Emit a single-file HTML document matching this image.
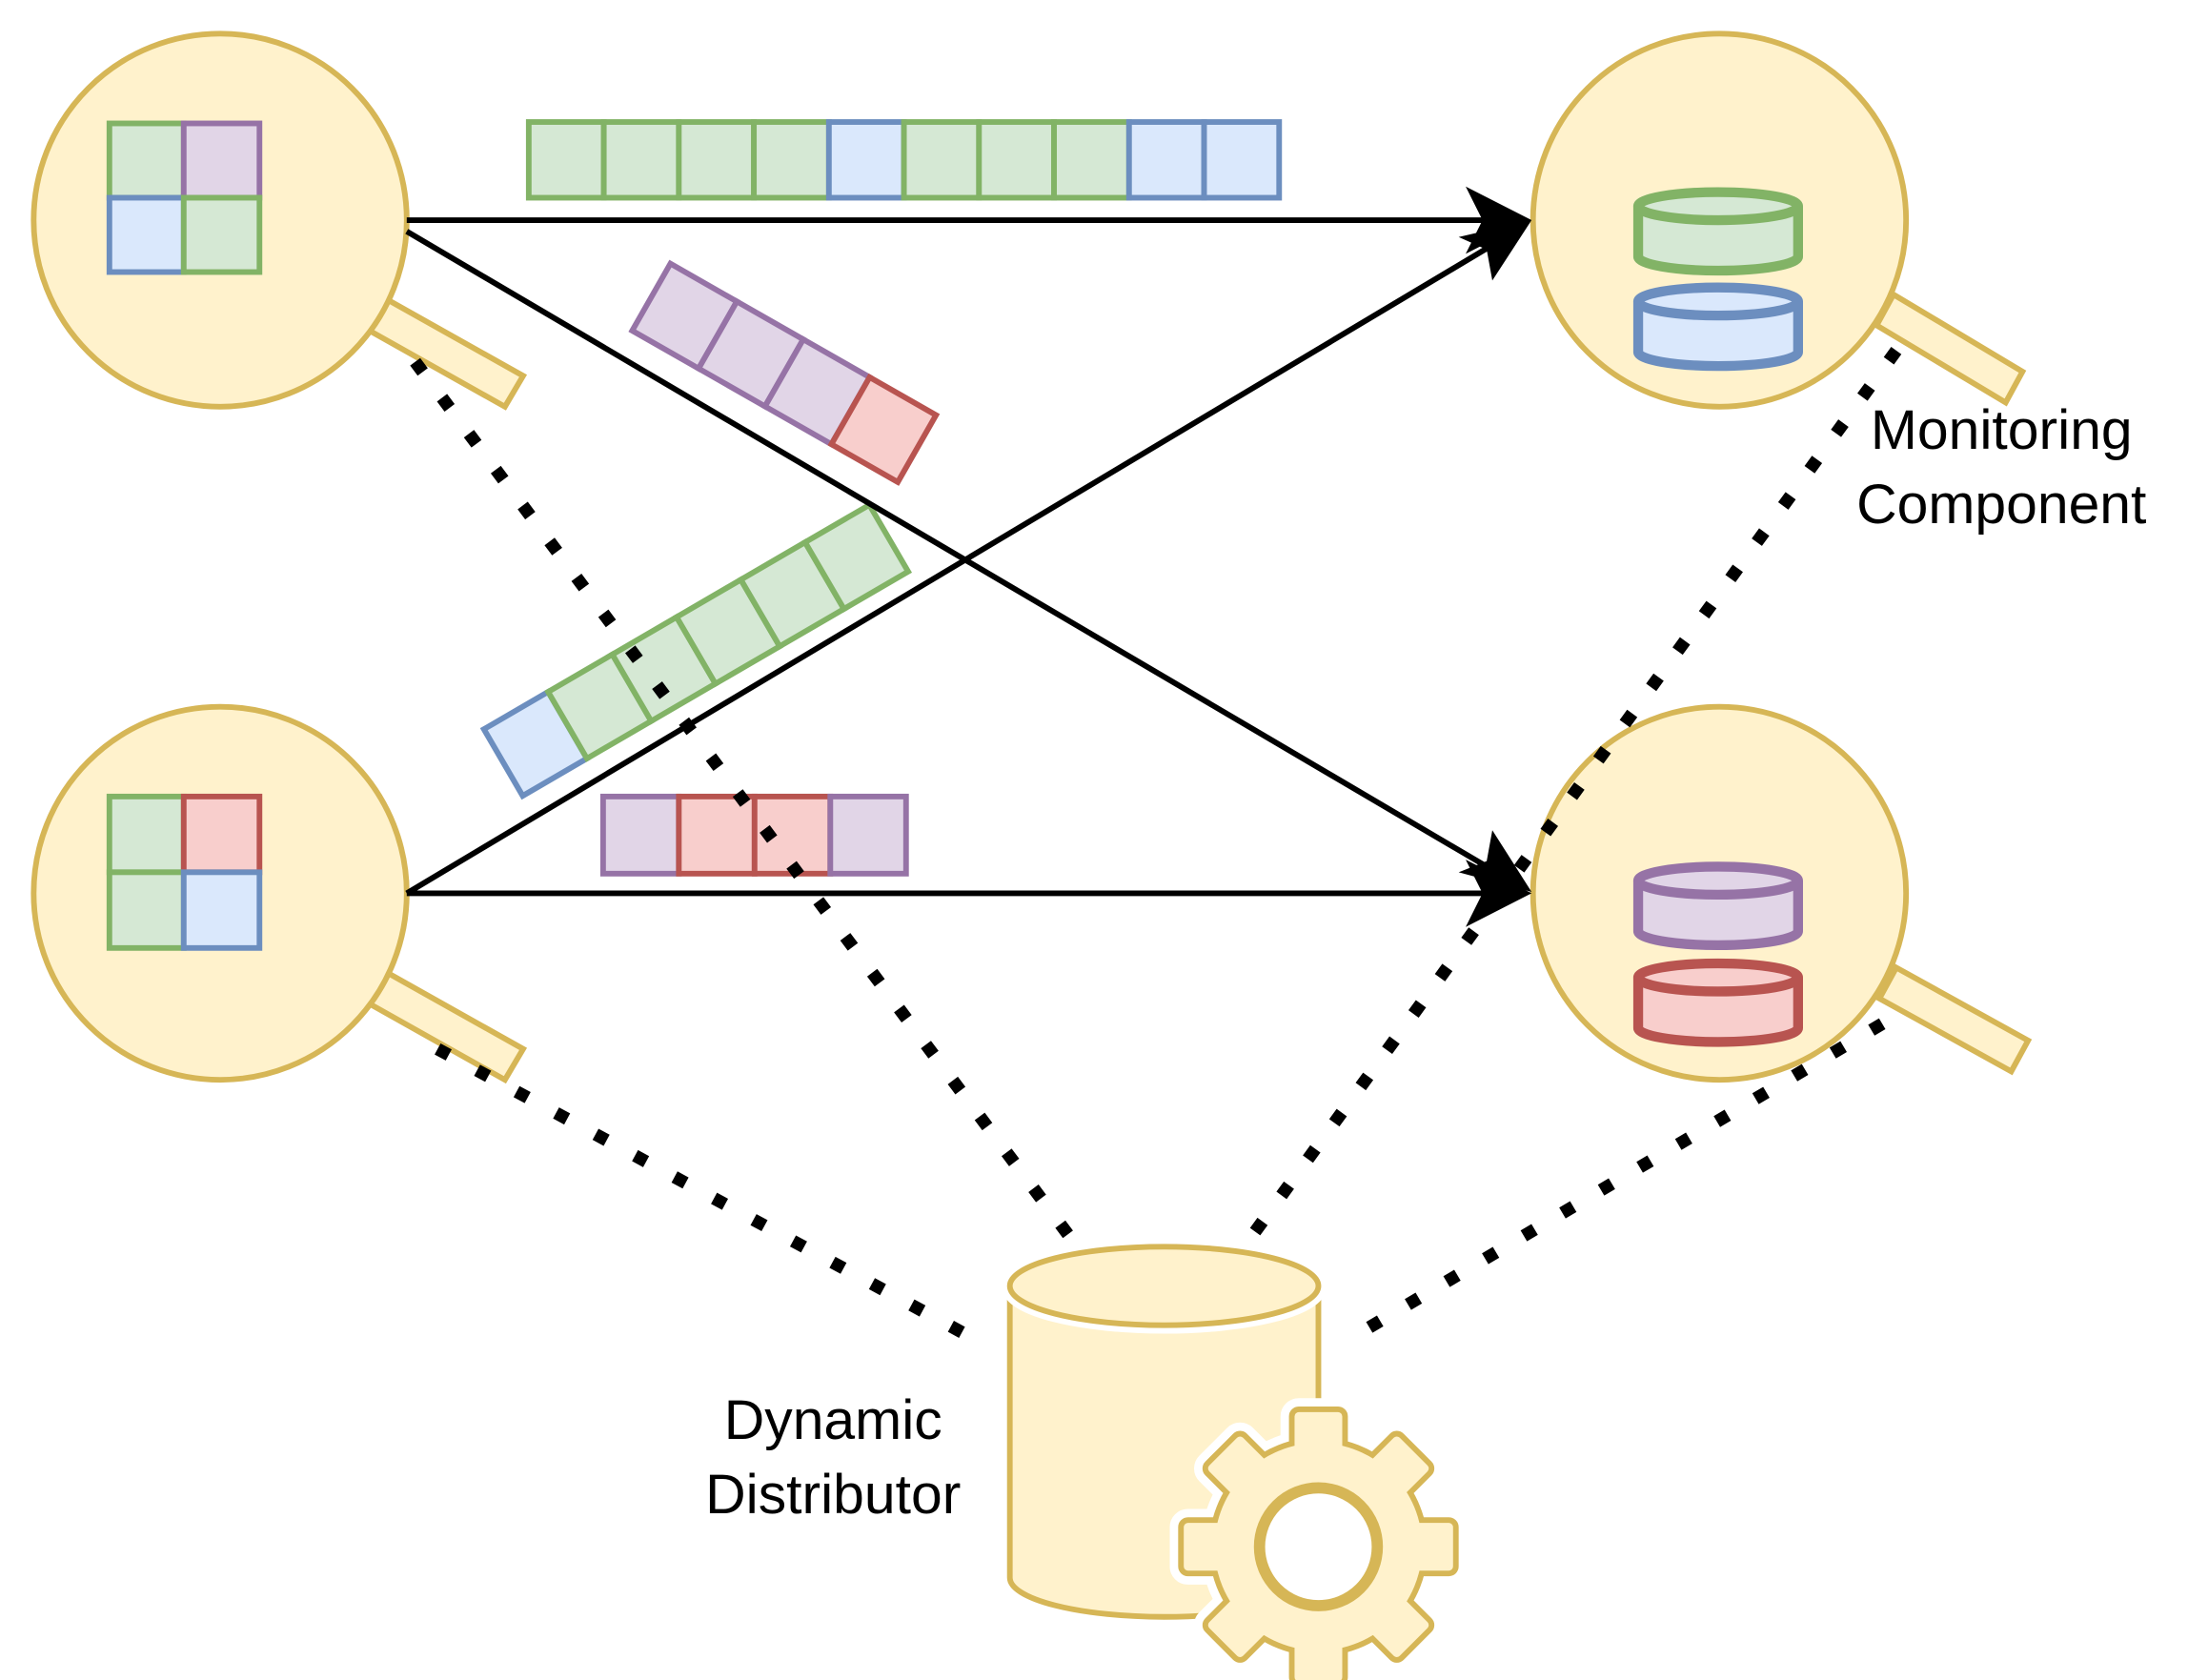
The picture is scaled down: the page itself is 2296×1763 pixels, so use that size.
<!DOCTYPE html>
<html><head><meta charset="utf-8"><style>
html,body{margin:0;padding:0;background:#fff;}
svg{display:block}
text{font-family:"Liberation Sans",sans-serif;font-size:40px;fill:#000;text-anchor:middle}
</style></head><body>
<svg width="2296" height="1763" viewBox="0 0 1560 1198" preserveAspectRatio="none" xmlns="http://www.w3.org/2000/svg">
<defs>
<marker id="ah" markerWidth="12" markerHeight="12" refX="10" refY="6" orient="auto" markerUnits="userSpaceOnUse" viewBox="0 0 12 12">
</marker>
</defs>
<g fill="#fff2cc" stroke="#d6b656" stroke-width="4">
<polygon points="275,213 373,268 360,290 262,235"/>
<polygon points="275,693 373,748 360,770 262,715"/>
<polygon points="1350,210 1442,265 1430,287 1338,232"/>
<polygon points="1352,690 1446,742 1434,764 1340,712"/>
<circle cx="157" cy="157" r="133"/>
<circle cx="157" cy="637" r="133"/>
<circle cx="1226" cy="157" r="133"/>
<circle cx="1226" cy="637" r="133"/>
</g>
<!-- grids -->
<g stroke-width="4">
<rect x="78" y="88" width="53" height="53" fill="#d5e8d4" stroke="#82b366"/>
<rect x="131" y="88" width="54" height="53" fill="#e1d5e7" stroke="#9673a6"/>
<rect x="78" y="141" width="53" height="53" fill="#dae8fc" stroke="#6c8ebf"/>
<rect x="131" y="141" width="54" height="53" fill="#d5e8d4" stroke="#82b366"/>
<rect x="78" y="568" width="53" height="54" fill="#d5e8d4" stroke="#82b366"/>
<rect x="131" y="568" width="54" height="54" fill="#f8cecc" stroke="#b85450"/>
<rect x="78" y="622" width="53" height="54" fill="#d5e8d4" stroke="#82b366"/>
<rect x="131" y="622" width="54" height="54" fill="#dae8fc" stroke="#6c8ebf"/>
</g>
<!-- top bar -->
<g stroke-width="4">
<rect x="377" y="87" width="53.5" height="54" fill="#d5e8d4" stroke="#82b366"/>
<rect x="430.5" y="87" width="53.5" height="54" fill="#d5e8d4" stroke="#82b366"/>
<rect x="484" y="87" width="53.5" height="54" fill="#d5e8d4" stroke="#82b366"/>
<rect x="537.5" y="87" width="53.5" height="54" fill="#d5e8d4" stroke="#82b366"/>
<rect x="591" y="87" width="53.5" height="54" fill="#dae8fc" stroke="#6c8ebf"/>
<rect x="644.5" y="87" width="53.5" height="54" fill="#d5e8d4" stroke="#82b366"/>
<rect x="698" y="87" width="53.5" height="54" fill="#d5e8d4" stroke="#82b366"/>
<rect x="751.5" y="87" width="53.5" height="54" fill="#d5e8d4" stroke="#82b366"/>
<rect x="805" y="87" width="53.5" height="54" fill="#dae8fc" stroke="#6c8ebf"/>
<rect x="858.5" y="87" width="53.5" height="54" fill="#dae8fc" stroke="#6c8ebf"/>
<rect x="430" y="568" width="54" height="55" fill="#e1d5e7" stroke="#9673a6"/>
<rect x="484" y="568" width="54" height="55" fill="#f8cecc" stroke="#b85450"/>
<rect x="538" y="568" width="54" height="55" fill="#f8cecc" stroke="#b85450"/>
<rect x="592" y="568" width="54" height="55" fill="#e1d5e7" stroke="#9673a6"/>
</g>
<g transform="translate(478,188) rotate(29.7)" stroke-width="4">
<rect x="0" y="0" width="54.5" height="55" fill="#e1d5e7" stroke="#9673a6"/>
<rect x="54.5" y="0" width="54.5" height="55" fill="#e1d5e7" stroke="#9673a6"/>
<rect x="109" y="0" width="54.5" height="55" fill="#e1d5e7" stroke="#9673a6"/>
<rect x="163.5" y="0" width="54.5" height="55" fill="#f8cecc" stroke="#b85450"/>
</g>
<g transform="translate(345,520) rotate(-30.2)" stroke-width="4">
<rect x="0" y="0" width="53" height="55" fill="#dae8fc" stroke="#6c8ebf"/>
<rect x="53" y="0" width="53" height="55" fill="#d5e8d4" stroke="#82b366"/>
<rect x="106" y="0" width="53" height="55" fill="#d5e8d4" stroke="#82b366"/>
<rect x="159" y="0" width="53" height="55" fill="#d5e8d4" stroke="#82b366"/>
<rect x="212" y="0" width="53" height="55" fill="#d5e8d4" stroke="#82b366"/>
<rect x="265" y="0" width="53" height="55" fill="#d5e8d4" stroke="#82b366"/>
</g>
<!-- small cylinders -->
<g stroke-width="7">
<path d="M1168,147 v36 a57,10 0 0 0 114,0 v-36" fill="#d5e8d4" stroke="#82b366"/>
<ellipse cx="1225" cy="147" rx="57" ry="10" fill="#d5e8d4" stroke="#82b366"/>
<path d="M1168,215 v36 a57,10 0 0 0 114,0 v-36" fill="#dae8fc" stroke="#6c8ebf"/>
<ellipse cx="1225" cy="215" rx="57" ry="10" fill="#dae8fc" stroke="#6c8ebf"/>
<path d="M1168,628 v36 a57,10 0 0 0 114,0 v-36" fill="#e1d5e7" stroke="#9673a6"/>
<ellipse cx="1225" cy="628" rx="57" ry="10" fill="#e1d5e7" stroke="#9673a6"/>
<path d="M1168,697 v36 a57,10 0 0 0 114,0 v-36" fill="#f8cecc" stroke="#b85450"/>
<ellipse cx="1225" cy="697" rx="57" ry="10" fill="#f8cecc" stroke="#b85450"/>
</g>
<!-- arrows -->
<g stroke="#000" stroke-width="4" fill="none">
<line x1="290" y1="157" x2="1070" y2="157"/>
<line x1="290" y1="165" x2="1072" y2="625"/>
<line x1="290" y1="637" x2="1072" y2="170"/>
<line x1="290" y1="637" x2="1070" y2="637"/>
</g>
<g fill="#000">
<polygon points="1092,157 1045,133 1057,157 1045,181"/>
<polygon points="1092,637 1045,613 1057,637 1045,661"/>
<polygon points="1092,157 1040,169 1060,178 1064,200"/>
<polygon points="1092,636 1064,592 1060,614 1040,622"/>
</g>
<!-- dotted -->
<g stroke="#000" stroke-width="9" stroke-dasharray="9 23" fill="none">
<line x1="296" y1="258" x2="765" y2="885"/>
<line x1="312" y1="748" x2="695" y2="955"/>
<line x1="1352" y1="250" x2="890" y2="885"/>
<line x1="1342" y1="730" x2="962" y2="955"/>
</g>
<!-- DB -->
<g fill="#fff2cc" stroke="#d6b656" stroke-width="4">
<path d="M720,917 V1125 a110,28 0 0 0 220,0 V917"/>
<ellipse cx="830" cy="917" rx="110" ry="28" stroke="#fff" stroke-width="12"/>
<ellipse cx="830" cy="917" rx="110" ry="28"/>
</g>
<!-- gear -->
<g transform="translate(940,1103)">
<g stroke="#fff" stroke-width="20" stroke-linejoin="round" fill="#fff">
<circle r="74"/>
<g id="t"><rect x="-17" y="-96" width="34" height="30" rx="3"/></g>
<use href="#t" transform="rotate(45)"/><use href="#t" transform="rotate(90)"/><use href="#t" transform="rotate(135)"/><use href="#t" transform="rotate(180)"/><use href="#t" transform="rotate(225)"/><use href="#t" transform="rotate(270)"/><use href="#t" transform="rotate(315)"/>
</g>
<g stroke="#d6b656" stroke-width="8" stroke-linejoin="round" fill="#fff2cc">
<circle r="74"/>
<g id="t2"><rect x="-17" y="-96" width="34" height="30" rx="3"/></g>
<use href="#t2" transform="rotate(45)"/><use href="#t2" transform="rotate(90)"/><use href="#t2" transform="rotate(135)"/><use href="#t2" transform="rotate(180)"/><use href="#t2" transform="rotate(225)"/><use href="#t2" transform="rotate(270)"/><use href="#t2" transform="rotate(315)"/>
</g>
<g fill="#fff2cc">
<circle r="74"/>
<g id="t3"><rect x="-17" y="-96" width="34" height="32" rx="3"/></g>
<use href="#t3" transform="rotate(45)"/><use href="#t3" transform="rotate(90)"/><use href="#t3" transform="rotate(135)"/><use href="#t3" transform="rotate(180)"/><use href="#t3" transform="rotate(225)"/><use href="#t3" transform="rotate(270)"/><use href="#t3" transform="rotate(315)"/>
</g>
<circle r="42" fill="#fff" stroke="#d6b656" stroke-width="8"/>
</g>
<text x="1427" y="320">Monitoring</text>
<text x="1427" y="373">Component</text>
<text x="594" y="1026">Dynamic</text>
<text x="594" y="1079">Distributor</text>
</svg>
</body></html>
